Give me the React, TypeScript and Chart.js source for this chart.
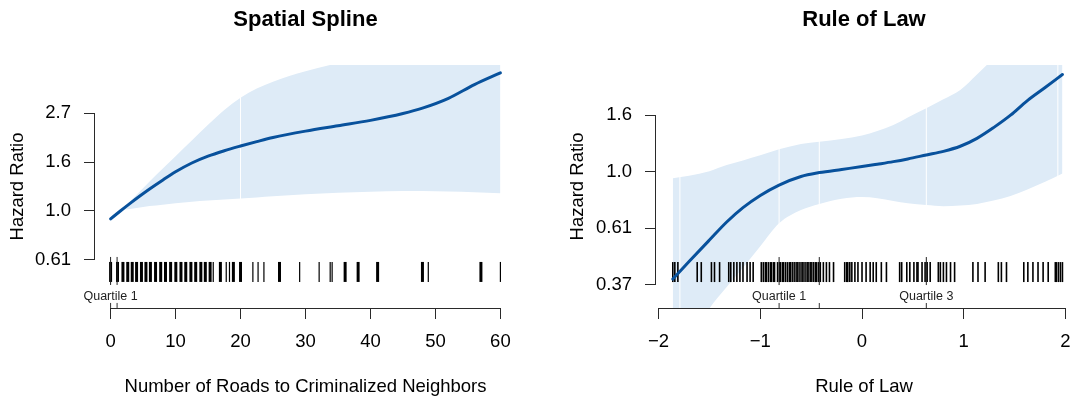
import React, { useEffect, useRef } from "react";
import { Chart, registerables } from "chart.js";

Chart.register(...registerables);

// ---------------- Left panel: Spatial Spline ----------------
const spatialX = [0, 1.5, 3, 4.5, 6, 8, 10, 12.5, 15, 17.5, 20, 22.5, 25, 30, 35, 40, 45, 48, 52, 56, 60];
const spatialFitLog = [-0.08, 0.0, 0.078, 0.153, 0.225, 0.315, 0.4, 0.49, 0.56, 0.615, 0.663, 0.708, 0.75, 0.815, 0.87, 0.925, 0.995, 1.05, 1.15, 1.29, 1.41];
const spatialUpperLog = [-0.06, 0.0, 0.1, 0.2, 0.3, 0.43, 0.56, 0.72, 0.88, 1.03, 1.155, 1.25, 1.32, 1.425, 1.51, 1.59, 1.66, 1.7, 1.75, 1.8, 1.85];
const spatialLowerLog = [-0.11, 0.0, 0.02, 0.035, 0.05, 0.065, 0.08, 0.095, 0.107, 0.117, 0.127, 0.139, 0.15, 0.17, 0.185, 0.197, 0.203, 0.205, 0.2, 0.192, 0.18];
const spatialRugMulti = [0, 1.06, 1.9, 2.64, 3.33, 4.0, 4.75, 5.44, 6.13, 6.92, 7.71, 8.45, 9.24, 10.04, 10.83, 11.57, 12.36, 13.1, 13.89, 14.58, 15.32, 16.9, 18.9, 20.0, 26.0, 36.1, 38.1, 41.1, 48.0, 57.0];
const spatialRugSingle = [15.8, 17.8, 18.3, 21.9, 22.7, 23.6, 29.1, 32.1, 33.8, 34.1, 48.9, 60];
const spatialQuartiles = [0, 1.0];
const spatialQuartileLabels = ["Quartile 1", ""];
const spatialSeams = [20];
const spatialXTicks = [0, 10, 20, 30, 40, 50, 60];
const spatialXTickLabels = ["0", "10", "20", "30", "40", "50", "60"];
const spatialYTicks = [-0.5, 0, 0.5, 1.0];
const spatialYTickLabels = ["0.61", "1.0", "1.6", "2.7"];

// ---------------- Right panel: Rule of Law ----------------
const lawX = [-1.86, -1.7, -1.5, -1.33, -1.17, -1.0, -0.815, -0.6, -0.42, -0.2, 0, 0.15, 0.308, 0.45, 0.632, 0.8, 0.966, 1.13, 1.293, 1.46, 1.62, 1.8, 1.97];
const lawFitLog = [-0.95, -0.795, -0.605, -0.445, -0.318, -0.21, -0.118, -0.042, -0.008, 0.02, 0.045, 0.066, 0.089, 0.113, 0.148, 0.18, 0.225, 0.295, 0.39, 0.5, 0.625, 0.745, 0.86];
const lawUpperLog = [-0.058, -0.035, 0.005, 0.059, 0.1, 0.145, 0.198, 0.245, 0.266, 0.29, 0.32, 0.36, 0.413, 0.48, 0.561, 0.64, 0.723, 0.86, 1.0, 1.12, 1.24, 1.36, 1.48];
const lawLowerLog = [-1.75, -1.5, -1.21, -1.02, -0.85, -0.66, -0.457, -0.34, -0.286, -0.24, -0.225, -0.235, -0.26, -0.28, -0.295, -0.305, -0.3, -0.285, -0.255, -0.215, -0.16, -0.09, -0.015];
const lawRug = [-1.86, -1.84, -1.81, -1.62, -1.58, -1.48, -1.45, -1.4, -1.31, -1.29, -1.26, -1.23, -1.2, -1.17, -1.13, -1.1, -1.07, -0.99, -0.97, -0.95, -0.94, -0.92, -0.9, -0.89, -0.87, -0.86, -0.83, -0.81, -0.8, -0.78, -0.77, -0.75, -0.73, -0.71, -0.7, -0.68, -0.66, -0.64, -0.63, -0.61, -0.59, -0.58, -0.56, -0.54, -0.53, -0.51, -0.5, -0.48, -0.46, -0.45, -0.43, -0.41, -0.38, -0.35, -0.32, -0.28, -0.17, -0.15, -0.14, -0.12, -0.1, -0.07, -0.04, 0.0, 0.04, 0.08, 0.11, 0.14, 0.19, 0.24, 0.37, 0.39, 0.44, 0.47, 0.51, 0.54, 0.55, 0.59, 0.62, 0.64, 0.67, 0.75, 0.77, 0.8, 0.83, 0.87, 0.91, 1.09, 1.14, 1.21, 1.34, 1.37, 1.42, 1.59, 1.63, 1.68, 1.73, 1.78, 1.83, 1.9, 1.91, 1.93, 1.95, 1.97];
const lawQuartiles = [-0.815, -0.42, 0.632];
const lawQuartileLabels = ["Quartile 1", "", "Quartile 3"];
const lawSeams = [-1.79, -0.815, -0.42, 0.632, 1.925];
const lawXTicks = [-2, -1, 0, 1, 2];
const lawXTickLabels = ["\u22122", "\u22121", "0", "1", "2"];
const lawYTicks = [-1.0, -0.5, 0, 0.5];
const lawYTickLabels = ["0.37", "0.61", "1.0", "1.6"];

const FONT = '"Liberation Sans", Arial, Helvetica, sans-serif';
const BAND = "#DEEBF7";
const LINE = "#08519C";
const AXIS = "#2a2a2a";

type Spec = {
  title: string;
  xTitle: string;
  x: number[];
  fit: number[];
  upper: number[];
  lower: number[];
  rugMulti: number[];
  rugSingle: number[];
  rugSingleWidth: number;
  quartiles: number[];
  quartileLabels: string[];
  seams: number[];
  xTicks: number[];
  xTickLabels: string[];
  yTicks: number[];
  yTickLabels: string[];
  xMin: number;
  xMax: number;
  yMin: number;
  yMax: number;
  rugY: number;
  quartY: number;
  axisTickY: number;
  yAxisWidth: number;
  yTitlePad: number;
  padRight: number;
};

const spatialSpec: Spec = {
  title: "Spatial Spline",
  xTitle: "Number of Roads to Criminalized Neighbors",
  x: spatialX,
  fit: spatialFitLog,
  upper: spatialUpperLog,
  lower: spatialLowerLog,
  rugMulti: spatialRugMulti,
  rugSingle: spatialRugSingle,
  rugSingleWidth: 1.2,
  quartiles: spatialQuartiles,
  quartileLabels: spatialQuartileLabels,
  seams: spatialSeams,
  xTicks: spatialXTicks,
  xTickLabels: spatialXTickLabels,
  yTicks: spatialYTicks,
  yTickLabels: spatialYTickLabels,
  xMin: -2.4,
  xMax: 62.4,
  yMin: -0.99,
  yMax: 1.49,
  rugY: -0.622,
  quartY: -0.612,
  axisTickY: -0.964,
  yAxisWidth: 95,
  yTitlePad: 7,
  padRight: 20,
};

const lawSpec: Spec = {
  title: "Rule of Law",
  xTitle: "Rule of Law",
  x: lawX,
  fit: lawFitLog,
  upper: lawUpperLog,
  lower: lawLowerLog,
  rugMulti: [],
  rugSingle: lawRug,
  rugSingleWidth: 1.6,
  quartiles: lawQuartiles,
  quartileLabels: lawQuartileLabels,
  seams: lawSeams,
  xTicks: lawXTicks,
  xTickLabels: lawXTickLabels,
  yTicks: lawYTicks,
  yTickLabels: lawYTickLabels,
  xMin: -2.025,
  xMax: 2.064,
  yMin: -1.206,
  yMax: 0.944,
  rugY: -0.888,
  quartY: -0.879,
  axisTickY: -1.184,
  yAxisWidth: 120,
  yTitlePad: 31,
  padRight: 0,
};

function makeChart(canvas: HTMLCanvasElement, s: Spec) {
  const pts = (ys: number[]) => s.x.map((x, i) => ({ x, y: ys[i] }));
  const at = (xs: number[], y: number) => xs.map((x) => ({ x, y }));
  const tickDs = (xs: number[], y: number, r: number, w: number, color: string) => ({
    data: at(xs, y),
    showLine: false,
    pointStyle: "line",
    pointRotation: 90,
    pointRadius: r,
    pointBorderColor: color,
    pointBorderWidth: w,
    pointBackgroundColor: color,
    borderColor: color,
    fill: false,
  });
  const seamDs = s.seams.map((x) => ({
    data: [
      { x, y: s.yMin },
      { x, y: s.yMax },
    ],
    borderColor: "#ffffff",
    borderWidth: 1,
    pointRadius: 0,
    fill: false,
  }));

  const datasets: any[] = [
    {
      data: pts(s.fit),
      borderColor: LINE,
      borderWidth: 3,
      borderCapStyle: "round",
      borderJoinStyle: "round",
      pointRadius: 0,
      cubicInterpolationMode: "monotone",
      fill: false,
    },
    tickDs(s.quartiles, s.quartY, 14, 1, "#222222"),
    tickDs(s.quartiles, s.axisTickY, 2.5, 1, "#333333"),
    tickDs(s.rugMulti, s.rugY, 10, 3, "#000000"),
    tickDs(s.rugSingle, s.rugY, 10, s.rugSingleWidth, "#000000"),
    ...seamDs,
    {
      data: pts(s.upper),
      borderColor: "rgba(0,0,0,0)",
      borderWidth: 1,
      backgroundColor: BAND,
      pointRadius: 0,
      cubicInterpolationMode: "monotone",
      fill: "+1",
    },
    {
      data: pts(s.lower),
      borderColor: "rgba(0,0,0,0)",
      borderWidth: 1,
      pointRadius: 0,
      cubicInterpolationMode: "monotone",
      fill: false,
    },
  ];

  const rStyle = {
    id: "rStyle",
    afterDatasetsDraw(chart: any) {
      const { ctx, chartArea, scales } = chart;
      const xs = scales.x;
      const ys = scales.y;
      ctx.save();
      ctx.strokeStyle = AXIS;
      ctx.lineWidth = 1;
      ctx.beginPath();
      const yb = Math.round(chartArea.bottom) + 0.5;
      ctx.moveTo(xs.getPixelForValue(s.xTicks[0]), yb);
      ctx.lineTo(xs.getPixelForValue(s.xTicks[s.xTicks.length - 1]), yb);
      const xl = Math.round(chartArea.left) - 0.5;
      ctx.moveTo(xl, ys.getPixelForValue(s.yTicks[0]));
      ctx.lineTo(xl, ys.getPixelForValue(s.yTicks[s.yTicks.length - 1]));
      ctx.stroke();
      ctx.font = `12.5px ${FONT}`;
      ctx.fillStyle = "#222222";
      ctx.textAlign = "center";
      ctx.textBaseline = "middle";
      s.quartiles.forEach((q, i) => {
        const label = s.quartileLabels[i];
        if (label) ctx.fillText(label, xs.getPixelForValue(q), chartArea.bottom - 11);
      });
      ctx.restore();
    },
  };

  return new Chart(canvas, {
    type: "line",
    data: { datasets },
    options: {
      animation: false,
      responsive: false,
      events: [],
      layout: { autoPadding: false, padding: { left: 0, right: s.padRight, top: 0, bottom: 0 } },
      plugins: {
        legend: { display: false },
        tooltip: { enabled: false },
        title: {
          display: true,
          text: s.title,
          fullSize: false,
          color: "#000",
          font: { family: FONT, size: 22, weight: "bold" },
          padding: { top: 7, bottom: 31.6 },
        },
      },
      scales: {
        x: {
          type: "linear",
          min: s.xMin,
          max: s.xMax,
          afterBuildTicks: (sc: any) => {
            sc.ticks = s.xTicks.map((v) => ({ value: v }));
          },
          afterFit: (sc: any) => {
            sc.height = 93;
            sc.paddingLeft = 0;
            sc.paddingRight = 0;
          },
          ticks: {
            autoSkip: false,
            maxRotation: 0,
            minRotation: 0,
            padding: 12,
            color: "#000",
            font: { family: FONT, size: 18.5 },
            callback: (_v: any, i: number) => s.xTickLabels[i],
          },
          grid: { drawOnChartArea: false, drawTicks: true, tickLength: 11, color: AXIS, lineWidth: 1 },
          border: { display: false },
          title: {
            display: true,
            text: s.xTitle,
            color: "#000",
            font: { family: FONT, size: 18.5 },
            padding: { top: 0, bottom: 3 },
          },
        },
        y: {
          type: "linear",
          min: s.yMin,
          max: s.yMax,
          afterBuildTicks: (sc: any) => {
            sc.ticks = s.yTicks.map((v) => ({ value: v }));
          },
          afterFit: (sc: any) => {
            sc.width = s.yAxisWidth;
            sc.paddingTop = 0;
            sc.paddingBottom = 0;
          },
          ticks: {
            autoSkip: false,
            padding: 13,
            color: "#000",
            font: { family: FONT, size: 18.5 },
            callback: (_v: any, i: number) => s.yTickLabels[i],
          },
          grid: { drawOnChartArea: false, drawTicks: true, tickLength: 11, color: AXIS, lineWidth: 1 },
          border: { display: false },
          title: {
            display: true,
            text: "Hazard Ratio",
            color: "#000",
            font: { family: FONT, size: 18.5 },
            padding: { top: s.yTitlePad, bottom: 0 },
          },
        },
      },
    } as any,
    plugins: [rStyle],
  });
}

export default function App() {
  const leftRef = useRef<HTMLCanvasElement>(null);
  const rightRef = useRef<HTMLCanvasElement>(null);

  useEffect(() => {
    document.body.style.margin = "0";
    const c1 = makeChart(leftRef.current as HTMLCanvasElement, spatialSpec);
    const c2 = makeChart(rightRef.current as HTMLCanvasElement, lawSpec);
    return () => {
      c1.destroy();
      c2.destroy();
    };
  }, []);

  return (
    <div style={{ position: "fixed", left: 0, top: 0, width: 1072, height: 401, background: "#ffffff", overflow: "hidden" }}>
      <canvas
        ref={leftRef}
        width={536}
        height={401}
        style={{ position: "absolute", left: 0, top: 0, width: 536, height: 401, display: "block" }}
      />
      <canvas
        ref={rightRef}
        width={536}
        height={401}
        style={{ position: "absolute", left: 536, top: 0, width: 536, height: 401, display: "block" }}
      />
    </div>
  );
}
